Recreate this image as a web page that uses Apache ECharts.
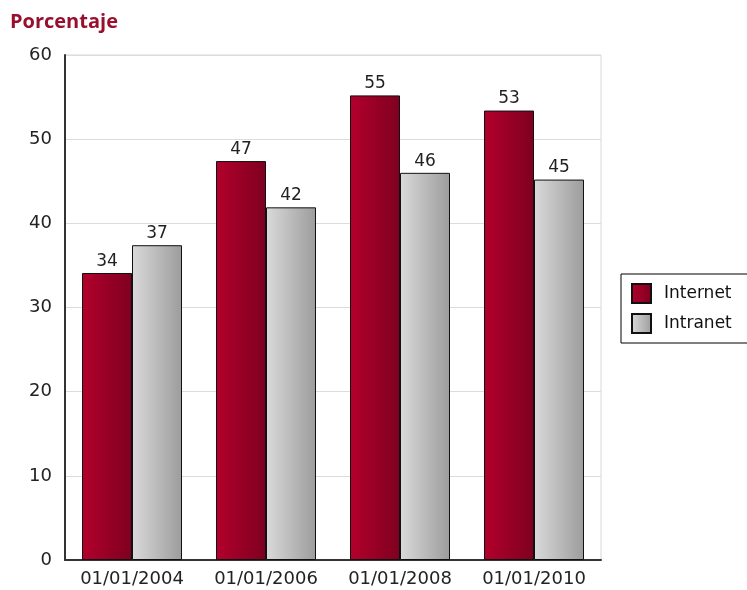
<!DOCTYPE html>
<html>
<head>
<meta charset="utf-8">
<script src="https://cdn.jsdelivr.net/npm/echarts@6/dist/echarts.min.js"></script>
<style>
  html, body { margin: 0; padding: 0; background: #fff; }
  #chart { width: 747px; height: 590px; }
</style>
</head>
<body>
<div id="chart"></div>
<script>
// datos
var categories = ["01/01/2004", "01/01/2006", "01/01/2008", "01/01/2010"];
var internet = [34.1, 47.4, 55.2, 53.4];
var intranet = [37.4, 41.9, 46.0, 45.2];
var seriesNames = ["Internet", "Intranet"];

var FONT = "DejaVu Sans, Verdana, sans-serif";

function grad(a, b) {
  return new echarts.graphic.LinearGradient(0, 0, 1, 0, [
    { offset: 0, color: a },
    { offset: 1, color: b }
  ]);
}

var chart = echarts.init(document.getElementById("chart"));

chart.setOption({
  animation: false,
  title: {
    text: "Porcentaje",
    left: 5,
    top: 7,
    textStyle: { color: "#99102E", fontSize: 20, fontWeight: "bold", fontFamily: "Open Sans, sans-serif" }
  },
  legend: {
    orient: "vertical",
    left: 621,
    top: 274,
    padding: [9, 40, 9, 10],
    itemWidth: 19,
    itemHeight: 19,
    itemGap: 9,
    borderColor: "#000",
    borderWidth: 1,
    icon: "rect",
    textStyle: { fontSize: 17, lineHeight: 19, color: "#111", fontFamily: FONT, padding: [0, 0, 0, 8] },
    data: seriesNames
  },
  grid: {
    left: 65, right: 146, top: 55, bottom: 30,
    show: true, borderColor: "#d8d8d8", borderWidth: 1
  },
  xAxis: {
    type: "category",
    data: categories,
    axisLine: { lineStyle: { color: "#333", width: 2 } },
    axisTick: { show: false },
    axisLabel: { interval: 0, color: "#222", fontSize: 18, margin: 10, fontFamily: FONT }
  },
  yAxis: {
    type: "value",
    min: 0, max: 60, interval: 10,
    axisLine: { show: true, lineStyle: { color: "#333", width: 2 } },
    axisTick: { show: false },
    splitLine: { lineStyle: { color: "#dcdcdc" } },
    axisLabel: { color: "#222", fontSize: 18, margin: 13, fontFamily: FONT }
  },
  series: [
    {
      name: seriesNames[0],
      type: "bar",
      data: internet,
      barWidth: 50,
      barGap: "0%",
      itemStyle: { color: grad("#B3002B", "#7E0020"), borderColor: "#111", borderWidth: 1 },
      label: {
        show: true, position: "top", distance: 3, color: "#222", fontSize: 17, fontFamily: FONT,
        formatter: function (p) { return Math.round(p.value); }
      }
    },
    {
      name: seriesNames[1],
      type: "bar",
      data: intranet,
      barWidth: 50,
      itemStyle: { color: grad("#DADADA", "#9C9C9C"), borderColor: "#111", borderWidth: 1 },
      label: {
        show: true, position: "top", distance: 3, color: "#222", fontSize: 17, fontFamily: FONT,
        formatter: function (p) { return Math.round(p.value); }
      }
    }
  ]
});
</script>
</body>
</html>
